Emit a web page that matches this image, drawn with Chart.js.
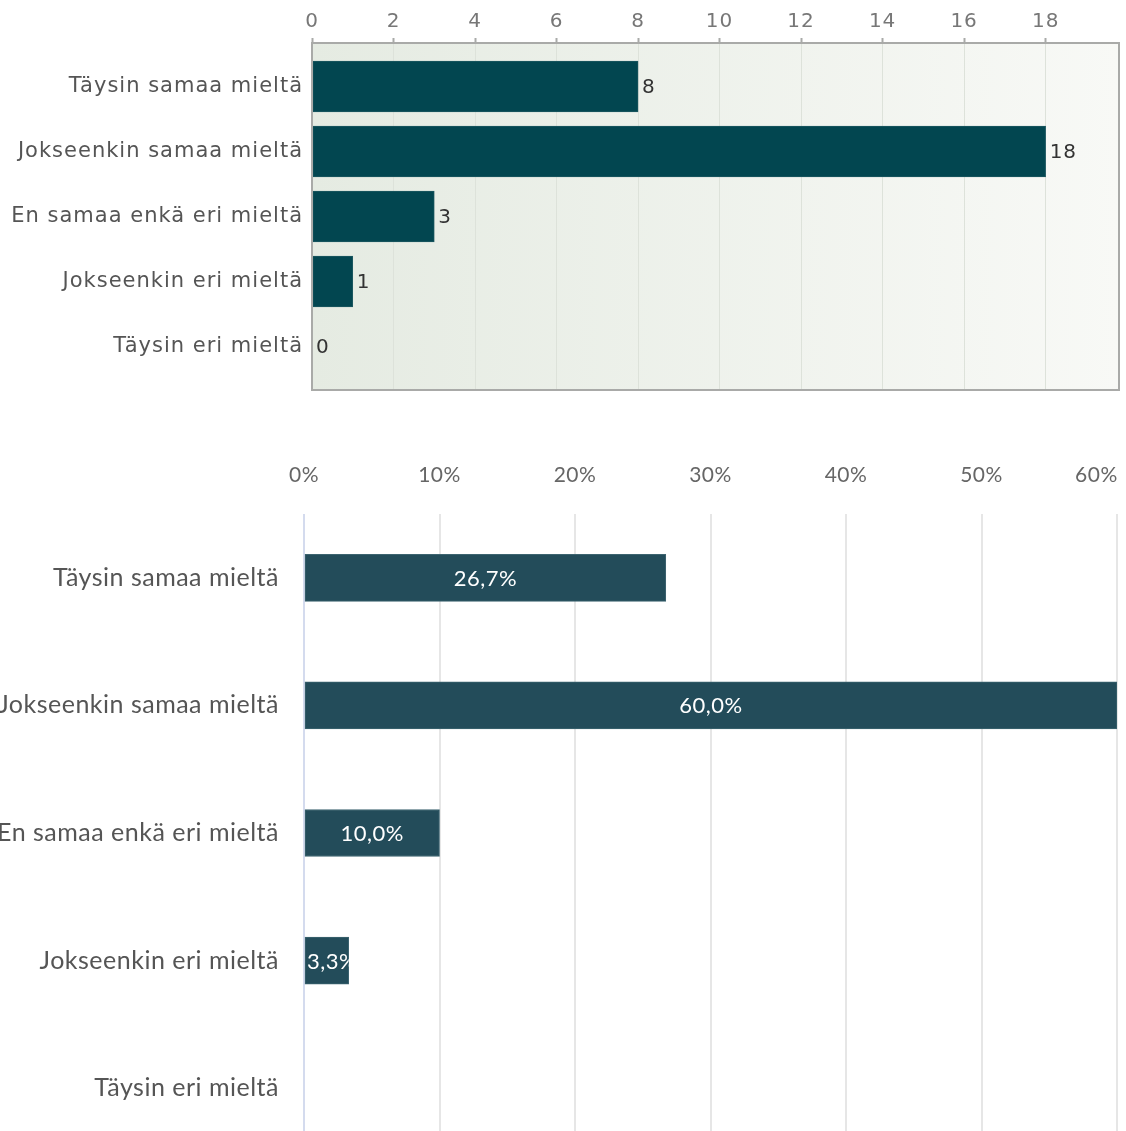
<!DOCTYPE html>
<html>
<head>
<meta charset="utf-8">
<script src="https://cdn.jsdelivr.net/npm/chart.js@4.4.0/dist/chart.umd.min.js"></script>
<style>
  html, body { margin: 0; padding: 0; background: #fff; width: 1126px; height: 1131px; overflow: hidden; }
  canvas { display: block; }
</style>
</head>
<body>
<canvas id="counts" width="1126" height="400"></canvas>
<canvas id="shares" width="1126" height="755"></canvas>
<script>
// --- Données ---
const CATEGORIES = [
  'Täysin samaa mieltä',
  'Jokseenkin samaa mieltä',
  'En samaa enkä eri mieltä',
  'Jokseenkin eri mieltä',
  'Täysin eri mieltä'
];
const COUNTS = [8, 18, 3, 1, 0];
const SHARES = [26.7, 60.0, 10.0, 3.3, 0];
const COUNT_TICKS = [0, 2, 4, 6, 8, 10, 12, 14, 16, 18];
const SHARE_TICKS = [0, 10, 20, 30, 40, 50, 60];

// --- Formatage ---
const fmtPct = (n) => n.toFixed(1).replace('.', ',') + '%';

const DEJAVU = '"DejaVu Sans", sans-serif';
const LATO = 'Lato, "Open Sans", sans-serif';

// pas de marge auto autour des libellés : la zone de tracé est fixée à la main
const noPad = (s) => { s.paddingLeft = s.paddingRight = s.paddingTop = s.paddingBottom = 0; };

// --- Espacement des lettres (canvas) ---
const spacing = (px) => ({
  id: 'spacing',
  beforeDraw(chart) { chart.ctx.letterSpacing = px; }
});

// --- Cadre + fond dégradé du premier graphique ---
const plotFrame = {
  id: 'plotFrame',
  beforeDraw(chart) {
    const { ctx, chartArea: a } = chart;
    const g = ctx.createLinearGradient(a.left, 0, a.right, 0);
    g.addColorStop(0, '#e5ebe2');
    g.addColorStop(1, '#f8f9f6');
    ctx.save();
    ctx.fillStyle = g;
    ctx.fillRect(a.left, a.top, a.right - a.left, a.bottom - a.top);
    ctx.restore();
  },
  afterDraw(chart) {
    const { ctx, chartArea: a } = chart;
    ctx.save();
    ctx.strokeStyle = '#a9aaa8';
    ctx.lineWidth = 2;
    ctx.strokeRect(a.left, a.top, a.right - a.left, a.bottom - a.top);
    ctx.restore();
  }
};

// --- Valeurs à droite des barres ---
const countLabels = {
  id: 'countLabels',
  afterDatasetsDraw(chart) {
    const { ctx } = chart;
    const meta = chart.getDatasetMeta(0);
    ctx.save();
    ctx.font = '20px ' + DEJAVU;
    ctx.fillStyle = '#333';
    ctx.textAlign = 'left';
    ctx.textBaseline = 'middle';
    meta.data.forEach((bar, i) => {
      ctx.fillText(String(COUNTS[i]), bar.x + 4, bar.y + 1);
    });
    ctx.restore();
  }
};

// --- Pourcentages au centre des barres (coupés à la barre) ---
const shareLabels = {
  id: 'shareLabels',
  afterDatasetsDraw(chart) {
    const { ctx } = chart;
    const meta = chart.getDatasetMeta(0);
    ctx.save();
    ctx.font = '22px ' + LATO;
    ctx.fillStyle = '#fff';
    ctx.textAlign = 'center';
    ctx.textBaseline = 'middle';
    meta.data.forEach((bar, i) => {
      if (!SHARES[i]) return;
      const txt = fmtPct(SHARES[i]);
      const w = ctx.measureText(txt).width;
      const h = bar.height;
      // trop large : on part du début de la barre, la fin est coupée
      const cx = Math.max((bar.base + bar.x) / 2, bar.base + w / 2 + 2);
      ctx.save();
      ctx.beginPath();
      ctx.rect(bar.base, bar.y - h / 2, bar.x - bar.base, h);
      ctx.clip();
      ctx.fillText(txt, cx, bar.y + 1);
      ctx.restore();
    });
    ctx.restore();
  }
};

// --- Graphique 1 : nombres ---
new Chart(document.getElementById('counts'), {
  type: 'bar',
  data: {
    datasets: [{
      data: COUNTS.map((v, i) => ({ x: v, y: i })),
      backgroundColor: '#024650',
      borderColor: '#1d5860',
      borderWidth: 1,
      borderSkipped: false,
      barThickness: 51
    }]
  },
  options: {
    indexAxis: 'y',
    responsive: false,
    animation: false,
    layout: { padding: { left: 0, right: 7, top: 0, bottom: 10 } },
    plugins: { legend: { display: false }, tooltip: { enabled: false } },
    scales: {
      x: {
        type: 'linear',
        position: 'top',
        min: 0,
        max: 19.8,
        afterBuildTicks: (s) => { s.ticks = COUNT_TICKS.map(v => ({ value: v })); },
        afterFit: (s) => { s.height = 43; noPad(s); },
        border: { display: false },
        grid: { color: '#dde2da', lineWidth: 1, drawTicks: true, tickLength: 5, tickColor: '#a9aaa8', tickWidth: 2 },
        ticks: { color: '#777', font: { family: DEJAVU, size: 20 }, padding: 4 }
      },
      y: {
        type: 'linear',
        offset: false,
        reverse: true,
        min: -0.67,
        max: 4.67,
        afterBuildTicks: (s) => { s.ticks = CATEGORIES.map((_, i) => ({ value: i })); },
        afterFit: (s) => { s.width = 312; noPad(s); },
        border: { display: false },
        grid: { display: false, drawTicks: false },
        ticks: {
          color: '#555',
          font: { family: DEJAVU, size: 21 },
          padding: 9,
          callback: (v) => CATEGORIES[v] ?? ''
        }
      }
    }
  },
  plugins: [spacing('1px'), plotFrame, countLabels]
});

// --- Graphique 2 : pourcentages ---
new Chart(document.getElementById('shares'), {
  type: 'bar',
  data: {
    labels: CATEGORIES,
    datasets: [{
      data: SHARES,
      backgroundColor: '#234c5a',
      borderColor: '#3d6470',
      borderWidth: 1,
      borderSkipped: false,
      barThickness: 47
    }]
  },
  options: {
    indexAxis: 'y',
    responsive: false,
    animation: false,
    layout: { padding: { left: 0, right: 9, top: 0, bottom: 3 } },
    plugins: { legend: { display: false }, tooltip: { enabled: false } },
    scales: {
      x: {
        type: 'linear',
        position: 'top',
        min: 0,
        max: 60,
        afterBuildTicks: (s) => { s.ticks = SHARE_TICKS.map(v => ({ value: v })); },
        afterFit: (s) => { s.height = 114; noPad(s); },
        border: { display: false },
        grid: {
          color: (c) => (c.tick && c.tick.value === 0) ? '#d4dbee' : '#e6e6e6',
          lineWidth: 2,
          drawTicks: false
        },
        ticks: {
          color: '#666',
          font: { family: LATO, size: 21 },
          padding: 26,
          // le dernier libellé est décalé à gauche pour rester dans l'image
          callback: (v) => v === 60 ? '60%' + '\u00a0'.repeat(7) : v + '%'
        }
      },
      y: {
        afterFit: (s) => { s.width = 304; noPad(s); },
        border: { display: false },
        grid: { display: false, drawTicks: false },
        ticks: { color: '#555', font: { family: LATO, size: 25 }, padding: 25 }
      }
    }
  },
  plugins: [spacing('0.5px'), shareLabels]
});
</script>
</body>
</html>
